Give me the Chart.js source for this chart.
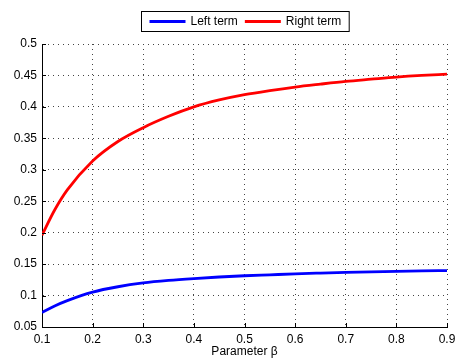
<!DOCTYPE html>
<html>
<head>
<meta charset="utf-8">
<script src="https://cdn.jsdelivr.net/npm/chart.js@4/dist/chart.umd.min.js"></script>
<style>
  html, body { margin: 0; padding: 0; background: #fff; }
  #wrap { width: 455px; height: 362px; }
</style>
</head>
<body>
<div id="wrap"><canvas id="termChart" width="455" height="362"></canvas></div>
<script>
// data (extra point at 0.125 where the curves bend hard)
const betaValues = [0.1, 0.125, 0.15, 0.2, 0.25, 0.3, 0.35, 0.4, 0.45, 0.5, 0.55, 0.6, 0.65, 0.7, 0.75, 0.8, 0.85, 0.9];
const leftTerm   = [0.073, 0.0835, 0.092, 0.1055, 0.114, 0.120, 0.124, 0.127, 0.1295, 0.1315, 0.133, 0.1345, 0.1357, 0.1368, 0.1377, 0.1385, 0.1392, 0.1398];
const rightTerm  = [0.196, 0.236, 0.268, 0.314, 0.345, 0.367, 0.385, 0.400, 0.411, 0.4195, 0.426, 0.4316, 0.4362, 0.4405, 0.444, 0.4474, 0.450, 0.452];

const xTicks = [0.1, 0.2, 0.3, 0.4, 0.5, 0.6, 0.7, 0.8, 0.9];
const yTicks = [0.05, 0.1, 0.15, 0.2, 0.25, 0.3, 0.35, 0.4, 0.45, 0.5];

const FONT = "'Liberation Sans', Arial, Helvetica, sans-serif";
const toPoints = ys => betaValues.map((b, i) => ({ x: b, y: ys[i] }));

// boxed legend at the top, matlab style
const boxLegend = {
  id: "boxLegend",
  afterDraw(chart) {
    const ctx = chart.ctx;
    const sets = chart.data.datasets;
    ctx.save();
    ctx.font = "12px " + FONT;
    const lineLen = 36, gap = 5, itemGap = 7, padX = 8;
    let total = padX * 2;
    sets.forEach((ds, i) => {
      total += lineLen + gap + ctx.measureText(ds.label).width;
      if (i < sets.length - 1) total += itemGap;
    });
    const cx = 245, top = 11, h = 20;
    const left = Math.round(cx - total / 2) + 0.5;
    ctx.fillStyle = "#fff";
    ctx.fillRect(left, top + 0.5, total, h);
    ctx.strokeStyle = "#000";
    ctx.lineWidth = 1;
    ctx.strokeRect(left, top + 0.5, total, h);
    let x = left + padX;
    const y = top + 0.5 + h / 2;
    sets.forEach(ds => {
      ctx.strokeStyle = ds.borderColor;
      ctx.lineWidth = 2.8;
      ctx.beginPath();
      ctx.moveTo(x, y);
      ctx.lineTo(x + lineLen, y);
      ctx.stroke();
      x += lineLen + gap;
      ctx.fillStyle = "#000";
      ctx.textBaseline = "middle";
      ctx.fillText(ds.label, x, y + 0.5);
      x += ctx.measureText(ds.label).width + itemGap;
    });
    ctx.restore();
  }
};

// small inward tick marks on the left and bottom axes
const innerTicks = {
  id: "innerTicks",
  afterDatasetsDraw(chart) {
    const { ctx, chartArea: a, scales } = chart;
    ctx.save();
    ctx.strokeStyle = "#000";
    ctx.lineWidth = 1;
    ctx.beginPath();
    yTicks.forEach(v => {
      const py = Math.round(scales.y.getPixelForValue(v)) + 0.5;
      ctx.moveTo(a.left, py);
      ctx.lineTo(a.left + 4, py);
    });
    xTicks.forEach(v => {
      const px = Math.round(scales.x.getPixelForValue(v)) + 0.5;
      ctx.moveTo(px, a.bottom);
      ctx.lineTo(px, a.bottom - 4);
    });
    ctx.stroke();
    ctx.restore();
  }
};

new Chart(document.getElementById("termChart"), {
  type: "line",
  data: {
    datasets: [
      {
        label: "Left term",
        data: toPoints(leftTerm),
        borderColor: "#0000ff",
        borderWidth: 2.8,
        pointRadius: 0,
        cubicInterpolationMode: "monotone",
        fill: false
      },
      {
        label: "Right term",
        data: toPoints(rightTerm),
        borderColor: "#ff0000",
        borderWidth: 2.8,
        pointRadius: 0,
        cubicInterpolationMode: "monotone",
        fill: false
      }
    ]
  },
  options: {
    responsive: false,
    animation: false,
    layout: { padding: { top: 44, right: 8, left: 0, bottom: 0 } },
    plugins: {
      legend: { display: false },
      tooltip: { enabled: false }
    },
    scales: {
      x: {
        type: "linear",
        min: 0.1,
        max: 0.9,
        afterBuildTicks: s => { s.ticks = xTicks.map(v => ({ value: v })); },
        afterFit: s => { s.height = 35; s.paddingLeft = 0; s.paddingRight = 0; },
        ticks: {
          color: "#000",
          font: { family: FONT, size: 12 },
          padding: 5,
          maxRotation: 0,
          autoSkip: false,
          callback: v => String(v)
        },
        grid: { color: "#444", drawTicks: false },
        border: { color: "#000", width: 1, dash: [1, 4] },
        title: {
          display: true,
          text: "Parameter β",
          color: "#000",
          font: { family: FONT, size: 12 },
          padding: { top: 0, bottom: 3 }
        }
      },
      y: {
        min: 0.05,
        max: 0.5,
        afterBuildTicks: s => { s.ticks = yTicks.map(v => ({ value: v })); },
        afterFit: s => { s.width = 42; s.paddingTop = 0; s.paddingBottom = 0; },
        ticks: {
          color: "#000",
          font: { family: FONT, size: 12 },
          padding: 5,
          autoSkip: false,
          callback: v => String(v)
        },
        grid: { color: "#444", drawTicks: false },
        border: { color: "#000", width: 1, dash: [1, 4] }
      }
    }
  },
  plugins: [boxLegend, innerTicks]
});
</script>
</body>
</html>
